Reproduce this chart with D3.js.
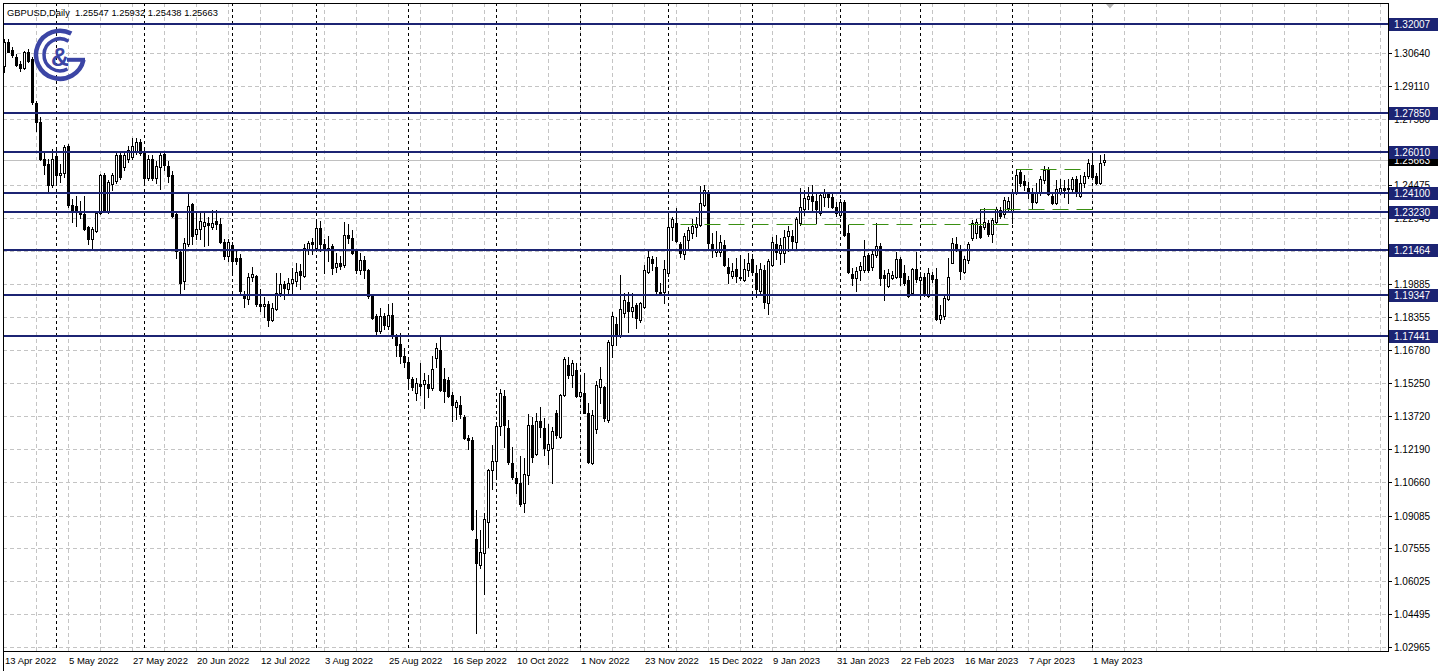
<!DOCTYPE html>
<html><head><meta charset="utf-8">
<script src="https://cdn.jsdelivr.net/npm/d3@7"></script>
<style>
html,body{margin:0;padding:0;background:#fff;}
svg{display:block;}
text{font-family:"Liberation Sans", Arial, sans-serif;}
</style></head><body>
<svg id="chart" width="1438" height="671"></svg>
<script>
const header = "GBPUSD,Daily  1.25547 1.25932 1.25438 1.25663";
const tickLabels = ["13 Apr 2022","5 May 2022","27 May 2022","20 Jun 2022","12 Jul 2022","3 Aug 2022","25 Aug 2022","16 Sep 2022","10 Oct 2022","1 Nov 2022","23 Nov 2022","15 Dec 2022","9 Jan 2023","31 Jan 2023","22 Feb 2023","16 Mar 2023","7 Apr 2023","1 May 2023"];
const tickIndex = [0,16,32,48,64,80,96,112,128,144,160,176,192,208,224,240,256,272];
const monthStarts = [13,35,57,78,101,123,144,166,187,209,229,252,272];
const priceTicks = [1.30640,1.29110,1.27580,1.26050,1.24475,1.22945,1.21415,1.19885,1.18355,1.16780,1.15250,1.13720,1.12190,1.10660,1.09085,1.07555,1.06025,1.04495,1.02965];
// grid labels that sit fully under a level label in the reference are not printed
const hiddenTickLabels = [1.26050,1.21415];
const levels = [1.32007,1.27850,1.26010,1.24100,1.23230,1.21464,1.19347,1.17441];
const lastPrice = 1.25663;
const greenLevels = [1.2269,1.2339,1.2522];
const greenFrom = [169,244,253];
const greenTo = [251,272,269];

const open = [1.3005,1.3117,1.3080,1.3044,1.3013,1.2993,1.3070,1.3036,1.2831,1.2741,
1.2572,1.2546,1.2448,1.2585,1.2495,1.2505,1.2629,1.2356,1.2351,1.2328,
1.2313,1.2255,1.2199,1.2235,1.2320,1.2496,1.2328,1.2453,1.2468,1.2588,
1.2531,1.2569,1.2580,1.2607,1.2650,1.2600,1.2483,1.2572,1.2483,1.2531,
1.2592,1.2538,1.2495,1.2313,1.2137,1.2000,1.2173,1.2359,1.2219,1.2243,
1.2260,1.2270,1.2255,1.2281,1.2266,1.2183,1.2118,1.2170,1.2110,1.2110,
1.1939,1.1916,1.2022,1.2025,1.1893,1.1885,1.1893,1.1822,1.1872,1.1947,
1.1989,1.1963,1.1994,1.2001,1.2048,1.2025,1.2150,1.2183,1.2157,1.2250,
1.2172,1.2157,1.2165,1.2069,1.2084,1.2075,1.2215,1.2203,1.2141,1.2053,
1.2099,1.2053,1.1931,1.1838,1.1768,1.1838,1.1794,1.1841,1.1739,1.1708,
1.1654,1.1626,1.1543,1.1478,1.1522,1.1522,1.1522,1.1502,1.1641,1.1680,
1.1543,1.1540,1.1470,1.1413,1.1424,1.1370,1.1269,1.1261,1.0798,1.0678,
1.0733,1.0880,1.1121,1.1164,1.1326,1.1466,1.1315,1.1155,1.1082,1.1059,
1.0966,1.1097,1.1331,1.1194,1.1351,1.1315,1.1214,1.1222,1.1385,1.1273,
1.1470,1.1610,1.1564,1.1587,1.1466,1.1481,1.1388,1.1152,1.1311,1.1509,
1.1509,1.1354,1.1704,1.1801,1.1750,1.1854,1.1905,1.1864,1.1890,1.1820,
1.1879,1.2045,1.2103,1.2068,1.1952,1.1952,1.2037,1.2252,1.2270,1.2174,
1.2127,1.2193,1.2224,1.2252,1.2262,1.2356,1.2413,1.2174,1.2139,1.2139,
1.2169,1.2068,1.2025,1.2056,1.2022,1.2006,1.2053,1.2103,1.2037,1.1957,
1.2053,1.1898,1.2076,1.2174,1.2130,1.2134,1.2211,1.2211,1.2185,1.2270,
1.2336,1.2382,1.2398,1.2376,1.2320,1.2391,1.2407,1.2391,1.2345,1.2309,
1.2371,1.2227,1.2034,1.2014,1.2053,1.2053,1.2123,1.2065,1.2123,1.2165,
1.2030,1.1979,1.2014,1.2022,1.2103,1.2040,1.2006,1.1944,1.2056,1.2006,
1.2022,1.1932,1.2030,1.2009,1.1827,1.1839,1.1916,1.2087,1.2174,1.2146,
1.2045,1.2099,1.2200,1.2224,1.2258,1.2252,1.2273,1.2220,1.2278,1.2332,
1.2314,1.2340,1.2325,1.2410,1.2511,1.2469,1.2434,1.2418,1.2371,1.2410,
1.2472,1.2519,1.2398,1.2364,1.2418,1.2434,1.2429,1.2429,1.2475,1.2398,
1.2460,1.2491,1.2542,1.2491,1.2457,1.25547];
const high = [1.3130,1.3129,1.3092,1.3060,1.3027,1.3073,1.3083,1.3045,1.2840,1.2765,
1.2602,1.2569,1.2616,1.2624,1.2545,1.2635,1.2638,1.2383,1.2398,1.2375,
1.2398,1.2258,1.2252,1.2327,1.2499,1.2504,1.2470,1.2505,1.2603,1.2600,
1.2600,1.2631,1.2670,1.2667,1.2665,1.2610,1.2590,1.2590,1.2560,1.2597,
1.2602,1.2560,1.2513,1.2320,1.2145,1.2204,1.2406,1.2367,1.2320,1.2323,
1.2320,1.2302,1.2333,1.2333,1.2293,1.2196,1.2199,1.2183,1.2141,1.2126,
1.1955,1.2037,1.2068,1.2030,1.1963,1.1925,1.1908,1.1900,1.2040,1.2040,
1.2001,1.2017,1.2064,1.2087,1.2079,1.2173,1.2188,1.2204,1.2282,1.2282,
1.2199,1.2211,1.2173,1.2134,1.2118,1.2277,1.2266,1.2239,1.2149,1.2134,
1.2118,1.2056,1.1935,1.1846,1.1877,1.1854,1.1893,1.1900,1.1755,1.1758,
1.1688,1.1633,1.1556,1.1548,1.1618,1.1571,1.1564,1.1652,1.1714,1.1739,
1.1595,1.1556,1.1486,1.1447,1.1466,1.1377,1.1284,1.1276,1.0935,1.0841,
1.0922,1.1124,1.1237,1.1346,1.1497,1.1494,1.1354,1.1230,1.1113,1.1186,
1.1175,1.1382,1.1369,1.1385,1.1416,1.1362,1.1335,1.1320,1.1400,1.1475,
1.1646,1.1646,1.1633,1.1621,1.1564,1.1571,1.1432,1.1400,1.1537,1.1603,
1.1513,1.1727,1.1859,1.1835,1.2030,1.1947,1.1952,1.1947,1.1898,1.1905,
1.2076,1.2149,1.2118,1.2112,1.1991,1.2099,1.2309,1.2301,1.2340,1.2185,
1.2224,1.2252,1.2289,1.2301,1.2444,1.2449,1.2426,1.2224,1.2236,1.2216,
1.2193,1.2107,1.2087,1.2107,1.2123,1.2103,1.2130,1.2127,1.2076,1.2084,
1.2076,1.2103,1.2208,1.2216,1.2200,1.2239,1.2258,1.2239,1.2301,1.2433,
1.2426,1.2438,1.2449,1.2407,1.2418,1.2429,1.2418,1.2413,1.2371,1.2382,
1.2379,1.2263,1.2061,1.2068,1.2092,1.2193,1.2130,1.2146,1.2270,1.2177,
1.2053,1.2056,1.2050,1.2138,1.2112,1.2076,1.2025,1.2061,1.2138,1.2045,
1.2040,1.2061,1.2045,1.2061,1.1890,1.1941,1.2107,1.2200,1.2205,1.2169,
1.2118,1.2185,1.2286,1.2289,1.2336,1.2340,1.2286,1.2293,1.2348,1.2348,
1.2392,1.2395,1.2415,1.2522,1.2522,1.2496,1.2464,1.2433,1.2460,1.2491,
1.2537,1.2531,1.2418,1.2472,1.2475,1.2472,1.2475,1.2485,1.2491,1.2496,
1.2511,1.2569,1.2596,1.2503,1.2589,1.25932];
const low = [1.2975,1.3067,1.3045,1.3003,1.2980,1.2989,1.3022,1.2826,1.2701,1.2565,
1.2499,1.2414,1.2439,1.2461,1.2465,1.2485,1.2345,1.2277,1.2258,1.2297,
1.2238,1.2173,1.2149,1.2229,1.2313,1.2322,1.2320,1.2425,1.2460,1.2475,
1.2520,1.2555,1.2570,1.2595,1.2590,1.2453,1.2470,1.2470,1.2460,1.2432,
1.2520,1.2465,1.2300,1.2111,1.1945,1.1963,1.2163,1.2173,1.2196,1.2199,
1.2164,1.2168,1.2243,1.2243,1.2177,1.2103,1.2096,1.2035,1.2079,1.1948,
1.1880,1.1895,1.2001,1.1885,1.1861,1.1835,1.1790,1.1815,1.1866,1.1931,
1.1916,1.1947,1.1935,1.1978,1.1963,1.2022,1.2126,1.2126,1.2149,1.2141,
1.2040,1.2095,1.2033,1.2043,1.2056,1.2068,1.2180,1.2126,1.2040,1.2033,
1.2017,1.1924,1.1826,1.1745,1.1760,1.1776,1.1779,1.1737,1.1652,1.1621,
1.1602,1.1501,1.1494,1.1447,1.1470,1.1408,1.1463,1.1494,1.1602,1.1491,
1.1439,1.1463,1.1351,1.1357,1.1362,1.1264,1.1217,1.0841,1.0360,1.0663,
1.0543,1.0764,1.1031,1.1078,1.1284,1.1230,1.1149,1.1078,1.1015,1.0953,
1.0927,1.1056,1.1160,1.1191,1.1276,1.1191,1.1150,1.1062,1.1268,1.1268,
1.1466,1.1548,1.1509,1.1460,1.1463,1.1385,1.1152,1.1149,1.1292,1.1432,
1.1351,1.1346,1.1649,1.1703,1.1742,1.1835,1.1766,1.1835,1.1781,1.1812,
1.1874,1.2040,1.2053,1.1947,1.1936,1.1898,1.2025,1.2193,1.2185,1.2112,
1.2103,1.2146,1.2200,1.2211,1.2258,1.2351,1.2149,1.2115,1.2118,1.2118,
1.2071,1.1991,1.2014,1.1999,1.2006,1.2003,1.2025,1.2037,1.1929,1.1944,
1.1874,1.1848,1.2071,1.2103,1.2081,1.2092,1.2143,1.2154,1.2146,1.2263,
1.2309,1.2336,1.2332,1.2270,1.2309,1.2351,1.2348,1.2340,1.2304,1.2301,
1.2211,1.2040,1.1983,1.1957,1.2006,1.2045,1.2045,1.2053,1.2112,1.1983,
1.1913,1.1975,1.2009,1.2014,1.1983,1.1983,1.1925,1.1941,1.1999,1.1929,
1.1932,1.1929,1.1999,1.1820,1.1804,1.1827,1.1913,1.2084,1.2140,1.2009,
1.2037,1.2087,1.2193,1.2200,1.2200,1.2242,1.2211,1.2185,1.2270,1.2294,
1.2301,1.2329,1.2270,1.2407,1.2444,1.2426,1.2387,1.2340,1.2364,1.2402,
1.2457,1.2402,1.2360,1.2360,1.2407,1.2395,1.2364,1.2418,1.2398,1.2392,
1.2441,1.2480,1.2475,1.2454,1.2454,1.25438];
const close = [1.3114,1.3070,1.3055,1.3008,1.2993,1.3067,1.3028,1.2834,1.2741,1.2569,
1.2543,1.2448,1.2572,1.2495,1.2505,1.2624,1.2356,1.2323,1.2323,1.2313,
1.2246,1.2199,1.2246,1.2320,1.2496,1.2328,1.2461,1.2496,1.2588,1.2485,
1.2588,1.2611,1.2631,1.2650,1.2600,1.2483,1.2572,1.2483,1.2537,1.2588,
1.2540,1.2491,1.2305,1.2141,1.1994,1.2180,1.2351,1.2211,1.2246,1.2279,
1.2277,1.2262,1.2274,1.2266,1.2183,1.2118,1.2183,1.2095,1.2093,1.1955,
1.1924,1.2022,1.2033,1.1893,1.1885,1.1895,1.1822,1.1877,1.1947,1.1989,
1.1967,1.1994,1.2009,1.2044,1.2028,1.2157,1.2180,1.2172,1.2250,1.2172,
1.2146,1.2149,1.2064,1.2084,1.2072,1.2215,1.2203,1.2134,1.2053,1.2099,
1.2053,1.1931,1.1830,1.1768,1.1838,1.1799,1.1841,1.1745,1.1703,1.1654,
1.1626,1.1548,1.1509,1.1525,1.1514,1.1540,1.1505,1.1590,1.1688,1.1494,
1.1491,1.1466,1.1424,1.1439,1.1382,1.1269,1.1261,1.0845,1.0689,1.0741,
1.0891,1.1121,1.1163,1.1326,1.1481,1.1331,1.1160,1.1090,1.1059,1.0962,
1.1102,1.1331,1.1180,1.1349,1.1323,1.1222,1.1242,1.1303,1.1284,1.1470,
1.1637,1.1564,1.1621,1.1466,1.1486,1.1388,1.1160,1.1377,1.1517,1.1544,
1.1362,1.1719,1.1839,1.1750,1.1870,1.1913,1.1864,1.1882,1.1828,1.1898,
1.2053,1.2112,1.2084,1.1957,1.1941,1.2056,1.2252,1.2289,1.2190,1.2131,
1.2211,1.2239,1.2258,1.2267,1.2367,1.2426,1.2177,1.2146,1.2149,1.2185,
1.2076,1.2037,1.2050,1.2025,1.2014,1.2056,1.2087,1.2045,1.1963,1.2056,
1.1905,1.2096,1.2185,1.2138,1.2169,1.2208,1.2236,1.2190,1.2289,1.2345,
1.2387,1.2398,1.2376,1.2336,1.2402,1.2410,1.2391,1.2348,1.2317,1.2371,
1.2216,1.2045,1.2014,1.2050,1.2072,1.2118,1.2053,1.2127,1.2165,1.2014,
1.2014,1.2037,1.2030,1.2103,1.2022,1.1994,1.1932,1.2056,1.2009,1.2022,
1.1936,1.2037,1.2009,1.1823,1.1843,1.1921,1.2022,1.2177,1.2150,1.2050,
1.2103,1.2174,1.2270,1.2278,1.2208,1.2278,1.2220,1.2286,1.2338,1.2305,
1.2379,1.2376,1.2410,1.2496,1.2457,1.2449,1.2410,1.2371,1.2410,1.2475,
1.2519,1.2407,1.2367,1.2429,1.2434,1.2426,1.2433,1.2475,1.2418,1.2460,
1.2491,1.2553,1.2488,1.2457,1.2553,1.25663];

const svg = d3.select("#chart");
const L = 3, R = 1388, T = 3, B = 651;
const levelColor = "#1c2473";
const fmt = d3.format(".5f");

const x = d3.scaleLinear().domain([0, 346]).range([4, 4 + 4 * 346]);
const y = d3.scaleLinear().domain([1.02965, 1.30640]).range([647, 53]);
const px = i => Math.round(x(i)) + 0.5;
const py = v => Math.round(y(v)) + 0.5;

svg.append("rect").attr("width", 1438).attr("height", 671).attr("fill", "#fff");

const plot = svg.append("g");
plot.selectAll("line.hg").data(priceTicks).join("line")
  .attr("x1", L).attr("x2", R).attr("y1", d => py(d)).attr("y2", d => py(d))
  .attr("stroke", "#c4c4c4").attr("stroke-dasharray", "4,3");
const vIdx = d3.range(8, 346, 8);
plot.selectAll("line.vg").data(vIdx).join("line")
  .attr("x1", d => px(d)).attr("x2", d => px(d)).attr("y1", T).attr("y2", B)
  .attr("stroke", "#c4c4c4").attr("stroke-dasharray", "4,3");
plot.selectAll("line.sep").data(monthStarts).join("line")
  .attr("x1", d => px(d)).attr("x2", d => px(d)).attr("y1", T).attr("y2", B)
  .attr("stroke", "#000").attr("stroke-dasharray", "3,3");

plot.append("line").attr("x1", L).attr("x2", R).attr("y1", py(lastPrice)).attr("y2", py(lastPrice))
  .attr("stroke", "#c0c0c0");

const idx = d3.range(open.length);
const cg = plot.append("g");
cg.selectAll("line.wick").data(idx).join("line")
  .attr("x1", i => px(i)).attr("x2", i => px(i))
  .attr("y1", i => Math.round(y(high[i]))).attr("y2", i => Math.round(y(low[i])) + 1)
  .attr("stroke", "#000").attr("stroke-width", 1);
cg.selectAll("rect.body").data(idx).join("rect")
  .attr("x", i => px(i) - 1)
  .attr("y", i => Math.round(y(Math.max(open[i], close[i]))) + 0.5)
  .attr("width", 2)
  .attr("height", i => Math.max(0, Math.round(y(Math.min(open[i], close[i]))) - Math.round(y(Math.max(open[i], close[i])))))
  .attr("fill", i => close[i] >= open[i] ? "#fff" : "#000")
  .attr("stroke", "#000").attr("stroke-width", 1);

plot.selectAll("line.lvl").data(levels).join("line")
  .attr("x1", L).attr("x2", R).attr("y1", d => Math.round(y(d))).attr("y2", d => Math.round(y(d)))
  .attr("stroke", levelColor).attr("stroke-width", 2);

plot.selectAll("line.gr").data(greenLevels).join("line")
  .attr("x1", (d, k) => px(greenFrom[k])).attr("x2", (d, k) => px(greenTo[k]))
  .attr("y1", d => py(d)).attr("y2", d => py(d))
  .attr("stroke", "#3a8f12").attr("stroke-width", 1).attr("stroke-dasharray", "16,8");

svg.append("rect").attr("x", L + 0.5).attr("y", T + 0.5).attr("width", R - L).attr("height", B - T)
  .attr("fill", "none").attr("stroke", "#000");
svg.append("line").attr("x1", L + 0.5).attr("x2", L + 0.5).attr("y1", T).attr("y2", 671).attr("stroke", "#000");

const ra = svg.append("g");
ra.selectAll("line.rt").data(priceTicks).join("line")
  .attr("x1", R).attr("x2", R + 4).attr("y1", d => py(d)).attr("y2", d => py(d)).attr("stroke", "#000");
ra.selectAll("text.rl").data(priceTicks.filter(d => !hiddenTickLabels.includes(d))).join("text")
  .attr("x", R + 6).attr("y", d => Math.round(y(d)) + 3.5)
  .attr("font-size", "10px").attr("fill", "#000").text(d => fmt(d));

const cp = svg.append("g");
cp.append("rect").attr("x", R + 1).attr("y", Math.round(y(lastPrice)) - 6).attr("width", 49).attr("height", 12).attr("fill", "#000");
cp.append("text").attr("x", R + 6).attr("y", Math.round(y(lastPrice)) + 3.5).attr("font-size", "10px").attr("fill", "#fff").text(fmt(lastPrice));

const ll = svg.append("g");
ll.selectAll("rect").data(levels).join("rect")
  .attr("x", R + 1).attr("y", d => Math.round(y(d)) - 6).attr("width", 49).attr("height", 13)
  .attr("fill", levelColor);
ll.selectAll("text").data(levels).join("text")
  .attr("x", R + 6).attr("y", d => Math.round(y(d)) + 4)
  .attr("font-size", "10px").attr("fill", "#fff").text(d => fmt(d));

svg.selectAll("text.bl").data(tickIndex).join("text")
  .attr("x", (d) => px(d) + 0.5).attr("y", 664)
  .attr("font-size", "9.5px").attr("fill", "#000")
  .text((d, k) => tickLabels[k]);

const ht = svg.append("text").attr("x", 7).attr("y", 15.5).attr("font-size", "10px").attr("fill", "#000")
  .style("white-space", "pre").text(header);
const w = ht.node().getComputedTextLength();
if (w > 0) ht.attr("font-size", (10 * 211 / w).toFixed(2) + "px");

svg.append("path").attr("d", "M1106,4 L1114,4 L1110,8.5 Z").attr("fill", "#b4b4b4");

const lg = svg.append("g").attr("fill", "none").attr("stroke", "#3b45a5");
const cx0 = 60, cy0 = 54.8;
function arcPath(r, a0, a1) {
  const rad = a => a * Math.PI / 180;
  const p0 = [cx0 + r * Math.cos(rad(a0)), cy0 + r * Math.sin(rad(a0))];
  const p1 = [cx0 + r * Math.cos(rad(a1)), cy0 + r * Math.sin(rad(a1))];
  return `M${p0[0]},${p0[1]} A${r},${r} 0 1 0 ${p1[0]},${p1[1]}`;
}
lg.append("path").attr("d", arcPath(24, -62, 12)).attr("stroke-width", 4.5);
lg.append("path").attr("d", arcPath(16, -58, 62)).attr("stroke-width", 3.5);
lg.append("line").attr("x1", 67).attr("x2", 85).attr("y1", 59.8).attr("y2", 59.8).attr("stroke-width", 4);
svg.append("text").attr("x", 60).attr("y", 65.5).attr("text-anchor", "middle")
  .attr("font-size", "25px").attr("font-weight", "bold").attr("fill", "#3b45a5")
  .text("&");
</script>
</body></html>
